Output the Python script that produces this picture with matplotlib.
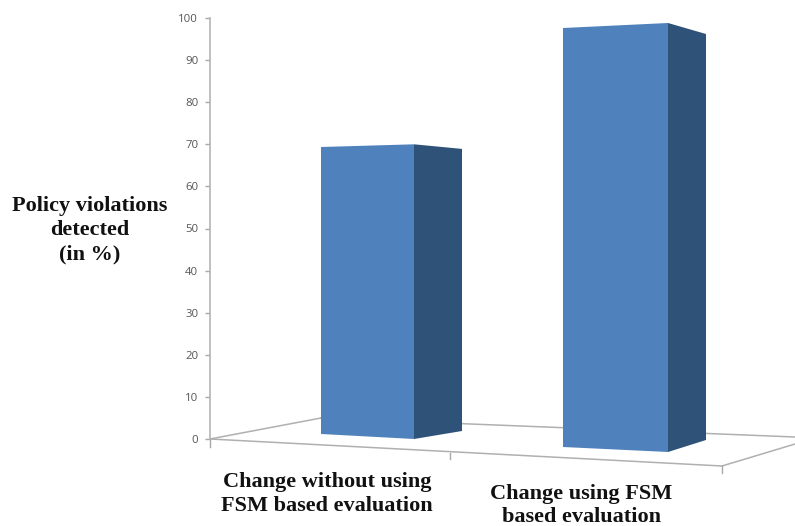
import matplotlib
matplotlib.use('Agg')
import matplotlib.pyplot as plt
from matplotlib.patches import Polygon

categories = ['Change without using\nFSM based evaluation', 'Change using FSM\nbased evaluation']
values = [70, 100]
yticks = list(range(0, 101, 10))
ylabel = 'Policy violations\ndetected\n(in %)'

W, H = 795, 526
Y0, Y100 = 439, 18   # pixel rows of the value axis
X0 = 210

fig = plt.figure(figsize=(W / 100, H / 100), dpi=100)
ax = fig.add_axes([X0 / W, (H - Y0) / H, (W - X0) / W, (Y0 - Y100) / H])
ax.set_xlim(X0, W)
ax.set_ylim(0, 100)
ax.patch.set_visible(False)

for s in ['top', 'right', 'bottom']:
    ax.spines[s].set_visible(False)
ax.spines['left'].set_color('#b5b5b5')
ax.spines['left'].set_linewidth(1.2)
ax.set_xticks([])
ax.set_yticks(yticks)
ax.tick_params(axis='y', length=3.5, width=1, color='#a8a8a8', labelcolor='#555555',
               labelsize=8.2, pad=5)
for t in ax.get_yticklabels():
    t.set_family('Open Sans')


def v(py):
    # pixel row -> value on the y axis
    return (Y0 - py) * 100 / (Y0 - Y100)


# floor, in perspective
floor = [
    ([210, 722], [439, 466]),
    ([722, 795], [466, 444]),
    ([210, 321], [439, 418]),
    ([321, 795], [418, 437]),
]
for xs, ys in floor:
    ax.plot(xs, [v(y) for y in ys], color='#b0b0b0', lw=1.1, clip_on=False, zorder=1)
for x, y1, y2 in [(210, 439, 447), (450, 453, 459), (722, 466, 473)]:
    ax.plot([x, x], [v(y1), v(y2)], color='#a8a8a8', lw=1, clip_on=False, zorder=1)

# one entry per bar: front left, front right, side right, base rows, and px per unit
bars = [
    dict(x=(321, 414, 462), base=(434, 439, 431), k=(4.10, 4.21, 4.03)),
    dict(x=(563, 668, 706), base=(447, 452, 440), k=(4.19, 4.29, 4.06)),
]
FRONT = '#4f81bd'
SIDE = '#2f5279'
for val, b in zip(values, bars):
    xl, xm, xr = b['x']
    bl, bm, br = b['base']
    kl, km, kr = b['k']
    tl, tm, tr = bl - val * kl, bm - val * km, br - val * kr
    ax.add_patch(Polygon([(xl, v(bl)), (xm, v(bm)), (xm, v(tm)), (xl, v(tl))],
                         fc=FRONT, ec='none', clip_on=False, zorder=3))
    ax.add_patch(Polygon([(xm, v(bm)), (xr, v(br)), (xr, v(tr)), (xm, v(tm))],
                         fc=SIDE, ec='none', clip_on=False, zorder=3))

serif = dict(family='Liberation Serif', fontweight='bold', fontsize=16, color='#111111',
             ha='center', va='center', linespacing=1.3)
fig.text(90 / W, 1 - 230 / H, ylabel, **serif)
fig.text(327 / W, 1 - 494 / H, categories[0], **serif)
# this one sits right at the bottom edge, tighter spacing keeps it inside
fig.text(581 / W, 1 - 506 / H, categories[1], **{**serif, 'linespacing': 1.2})

fig.savefig('out.png', dpi=100)
